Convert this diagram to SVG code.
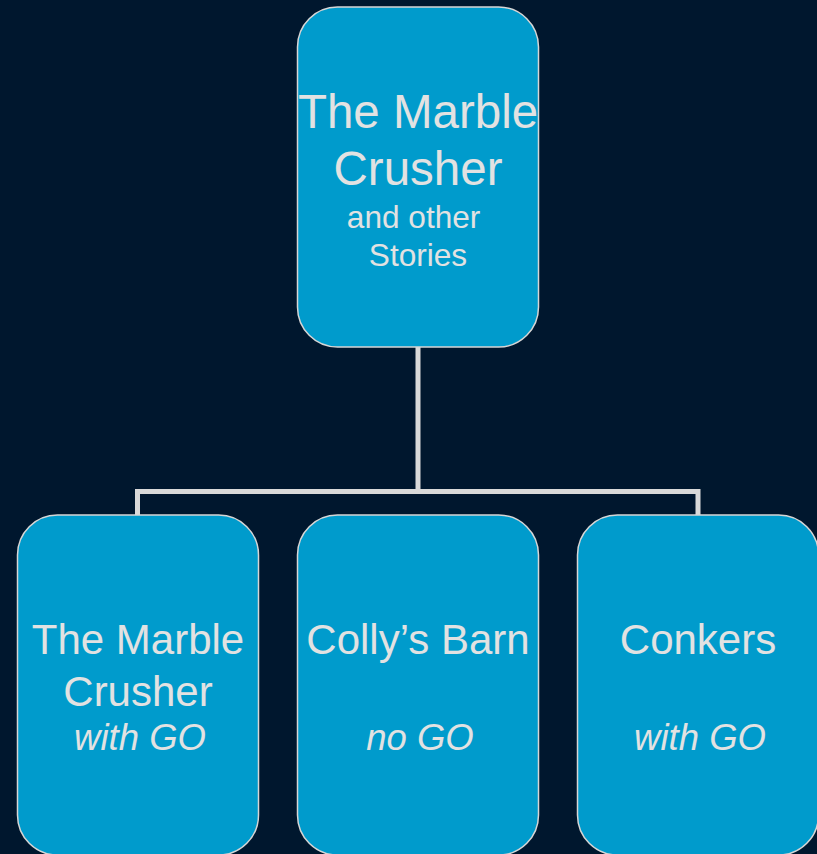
<svg xmlns="http://www.w3.org/2000/svg" width="817" height="854" viewBox="0 0 817 854">
<style>
.box{fill:#009bcc;stroke:#d6d6d6;stroke-width:1.5}
.t{font-family:"Liberation Sans",Arial,sans-serif;fill:#e2e2e2;text-anchor:middle}
.big{font-size:47.5px}
.mid{font-size:42px}
.sm{font-size:31.6px}
.it{font-size:36.5px;font-style:italic}
.conn{fill:none;stroke:#d9d9d9;stroke-width:5}
</style>
<rect x="0" y="0" width="817" height="854" fill="#00172e"/>
<g id="connectors">
<path class="conn" d="M418,347 V491.5 M137.5,515 V491.5 H698 V515"/>
</g>
<g id="root">
<rect class="box" x="297.5" y="7" width="241" height="340" rx="40" ry="40"/>
<text class="t big" x="418" y="128">The Marble</text>
<text class="t big" x="418" y="185">Crusher</text>
<text class="t sm" x="418" y="228" xml:space="preserve">and other </text>
<text class="t sm" x="418" y="266">Stories</text>
</g>
<g id="marble">
<rect class="box" x="17.5" y="515" width="241" height="340" rx="40" ry="40"/>
<text class="t mid" x="138" y="654">The Marble</text>
<text class="t mid" x="138" y="706">Crusher</text>
<text class="t it" x="140" y="750">with GO</text>
</g>
<g id="colly">
<rect class="box" x="297.5" y="515" width="241" height="340" rx="40" ry="40"/>
<text class="t mid" x="418" y="654">Colly’s Barn</text>
<text class="t it" x="420" y="750">no GO</text>
</g>
<g id="conkers">
<rect class="box" x="577.5" y="515" width="241" height="340" rx="40" ry="40"/>
<text class="t mid" x="698" y="654">Conkers</text>
<text class="t it" x="700" y="750">with GO</text>
</g>
</svg>
